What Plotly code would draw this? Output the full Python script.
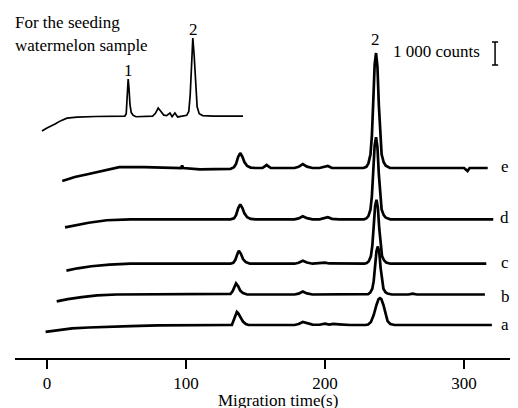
import plotly.graph_objects as go

# ---------------- data (migration time in s, signal in counts) ----------------
trace_names = ["a", "b", "c", "d", "e"]
trace_offsets = [1435, 2760, 4100, 6030, 8260]   # stacking offsets (counts)
inset_offset = 10520

t_a = [-1, 8, 18, 30, 45, 60, 80, 100, 130, 133,
       134.5, 136, 136.6, 137.5, 139, 141, 143, 145,
       178, 181, 184, 187, 191, 196, 200, 203, 206, 210, 214, 218,
       229, 231, 233, 235, 237, 238.5, 239.5, 240.5, 242, 243.5, 245, 247, 250,
       265, 290, 320]
y_a = [-300, -220, -150, -110, -65, -45, -20, 0, 0, 0,
       220, 520, 570, 520, 350, 150, 45, 0,
       0, 40, 130, 90, 20, 10, 60, 20, 50, 30, 10, 0,
       0, 20, 130, 430, 870, 1130, 1170, 1130, 870, 480, 170, 45, 0,
       0, 10, 0]

t_b = [7, 15, 25, 36, 50, 100, 130, 132, 133.5, 135,
       136, 137.5, 139, 141, 144, 178, 181, 184, 187, 191,
       200, 210, 229.3, 231, 232.5, 234, 235, 236, 237, 238,
       239, 240, 241, 242, 243.5, 245, 248, 260, 263, 266,
       290, 315]
y_b = [-300, -200, -110, -40, 0, 0, 0, 30, 140, 380,
       480, 360, 170, 60, 0, 0, 40, 130, 50, 0,
       0, 0, 0, 20, 85, 250, 580, 1210, 1880, 2090,
       1840, 1150, 560, 250, 100, 40, 0, 0, 40, 0,
       0, 0]

t_c = [14, 22, 32, 45, 60, 100, 132, 134, 135.5, 137,
       138, 139.5, 141, 143, 146, 178, 181, 184, 187, 191,
       197, 200, 203, 210, 228.3, 230, 231.5, 233, 234, 235,
       236, 237, 238, 239, 240, 241, 242.5, 244, 247, 280,
       316]
y_c = [-300, -200, -110, -40, 0, 0, 0, 40, 170, 430,
       565, 430, 200, 70, 0, 0, 40, 130, 50, 0,
       10, 45, 10, 0, 0, 30, 110, 330, 780, 1610,
       2500, 2780, 2450, 1530, 750, 330, 140, 55, 0, 0,
       0]

t_d = [13, 20, 30, 43, 60, 100, 130, 132, 134.5, 136,
       137.5, 139, 140.5, 142, 144, 146.5, 150, 178, 181, 184,
       187, 191, 196, 199, 202, 205, 210, 228, 229.7, 231.2,
       232.7, 233.7, 234.7, 235.7, 236.7, 237.7, 238.7, 239.7, 240.7, 242.2,
       243.7, 247, 280, 321]
y_d = [-350, -260, -150, -40, 0, 0, 0, 0, 40, 180,
       480, 650, 500, 260, 90, 20, 0, 0, 40, 130,
       50, 0, 0, 30, 90, 20, 0, 0, 40, 140,
       430, 1000, 2070, 3210, 3570, 3140, 1960, 960, 430, 180,
       70, 0, 0, 0]

t_e = [11, 20, 30, 40, 52, 70, 90, 96.5, 97.2, 98,
       110, 125, 132, 134.5, 136, 137.5, 139, 140.5, 142, 144,
       146.5, 150, 155, 158, 161, 170, 178, 181, 184, 187,
       191, 196, 199, 202, 205, 210, 220, 227.7, 229.7, 231.2,
       232.7, 233.7, 234.7, 235.7, 236.7, 237.7, 238.7, 239.7, 240.7, 242.2,
       243.7, 246.7, 260, 280, 300, 302.5, 304, 306, 317]
y_e = [-565, -390, -260, -110, 40, 40, 0, 0, 110, 0,
       -60, -60, -40, 40, 180, 480, 650, 500, 260, 90,
       20, 0, 0, 130, 0, 0, 0, 50, 170, 60,
       0, 0, 40, 90, 0, 0, 0, 0, 50, 200,
       600, 1400, 2900, 4500, 5000, 4400, 2750, 1350, 600, 250,
       100, 0, 0, 0, 0, -130, 0, 0, 0]

# seeding watermelon sample (inset trace)
t_s = [-3.6, 0, 5.8, 10, 14.4, 21.6, 35, 50, 56, 57,
       57.8, 58.4, 59, 59.7, 60.6, 62, 64, 72, 76, 78,
       80, 82, 84, 86, 88.5, 90, 92, 94, 97, 100.5,
       102, 103, 104, 104.9, 105.9, 107, 108, 109.5, 112, 120,
       141]
y_s = [-650, -520, -350, -200, -90, -45, -20, 0, 0, 100,
       900, 1610, 1200, 500, 150, 30, -30, -30, 0, 120,
       350, 200, 40, 20, 130, -30, 130, -40, 0, 30,
       200, 900, 2200, 3390, 2600, 1200, 400, 100, 20, 0,
       0]

x_ticks = [0, 100, 200, 300]
scale_bar_counts = 1000

# ---------------- layout geometry ----------------
# The page body has an 8 px default margin, so the figure is 8 px smaller
# and all reference pixel positions are shifted by -8.
PAGE_OFF = 8
W, H = 518 - PAGE_OFF, 408 - PAGE_OFF
AXIS_Y = 358          # reference pixel row of the x-axis line
PLOT_L = 15           # reference pixel column of the left end of the axis
ML, MR, MT = PLOT_L - PAGE_OFF, 0, 0
PW = 518 - PLOT_L
PH = AXIS_Y - PAGE_OFF
MB = H - PH
PX_PER_COUNT = 23.0 / 1000.0
X_RANGE = [-23.0, 338.8]
Y_RANGE = [0, PH / PX_PER_COUNT]
FONT = "Liberation Serif, Times New Roman, Times, serif"
FS = 17


def px_x(p):
    return (p - PLOT_L) / PW


def px_y(p):
    return (AXIS_Y - p) / PH


fig = go.Figure()

series = [(t_a, y_a), (t_b, y_b), (t_c, y_c), (t_d, y_d), (t_e, y_e)]
for name, off, (tt, yy) in zip(trace_names, trace_offsets, series):
    fig.add_trace(go.Scatter(x=tt, y=[v + off for v in yy], mode="lines",
                             line=dict(color="black", width=2.7),
                             name=name, showlegend=False, hoverinfo="skip"))

fig.add_trace(go.Scatter(x=t_s, y=[v + inset_offset for v in y_s], mode="lines",
                         line=dict(color="black", width=1.7),
                         showlegend=False, hoverinfo="skip"))

ann = []
label_px = {"a": (505, 324), "b": (505, 296), "c": (505, 262), "d": (504, 217), "e": (505, 166)}
for name in trace_names:
    px, py = label_px[name]
    ann.append(dict(text=name, x=px_x(px), y=px_y(py), xref="paper", yref="paper",
                    showarrow=False, xanchor="center", yanchor="middle",
                    font=dict(family=FONT, size=FS, color="black")))

texts = [
    ("For the seeding", 13, 22, "left"),
    ("watermelon sample", 13, 45, "left"),
    ("1", 128, 70, "center"),
    ("2", 193, 29, "center"),
    ("2", 375, 40, "center"),
    ("1 000 counts", 436, 52, "center"),
    ("Migration time(s)", 278, 400, "center"),
]
for txt, px, py, xa in texts:
    ann.append(dict(text=txt, x=px_x(px), y=px_y(py), xref="paper", yref="paper",
                    showarrow=False, xanchor=xa, yanchor="middle",
                    font=dict(family=FONT, size=FS, color="black")))

# scale bar (1000 counts)
bar_x = 322.3
bar_bottom = (AXIS_Y - 65) / PX_PER_COUNT
bar_top = bar_bottom + scale_bar_counts
shapes = [
    dict(type="line", x0=bar_x, x1=bar_x, y0=bar_bottom, y1=bar_top, xref="x", yref="y",
         line=dict(color="black", width=1.5)),
    dict(type="line", x0=bar_x - 2.2, x1=bar_x + 2.2, y0=bar_bottom, y1=bar_bottom, xref="x", yref="y",
         line=dict(color="black", width=1.5)),
    dict(type="line", x0=bar_x - 2.2, x1=bar_x + 2.2, y0=bar_top, y1=bar_top, xref="x", yref="y",
         line=dict(color="black", width=1.5)),
]

fig.update_layout(
    width=W, height=H,
    margin=dict(l=ML, r=MR, t=MT, b=MB, pad=0),
    paper_bgcolor="white", plot_bgcolor="white",
    font=dict(family=FONT, size=FS, color="black"),
    annotations=ann, shapes=shapes,
    xaxis=dict(range=X_RANGE, tickvals=x_ticks, ticktext=[str(v) for v in x_ticks],
               showline=True, linecolor="black", linewidth=1.5,
               ticks="outside", ticklen=9, tickwidth=1.5, tickcolor="black",
               showgrid=False, zeroline=False, ticklabelstandoff=0,
               tickfont=dict(family=FONT, size=FS, color="black")),
    yaxis=dict(range=Y_RANGE, visible=False, showgrid=False, zeroline=False),
)

fig.write_html("out.html")
